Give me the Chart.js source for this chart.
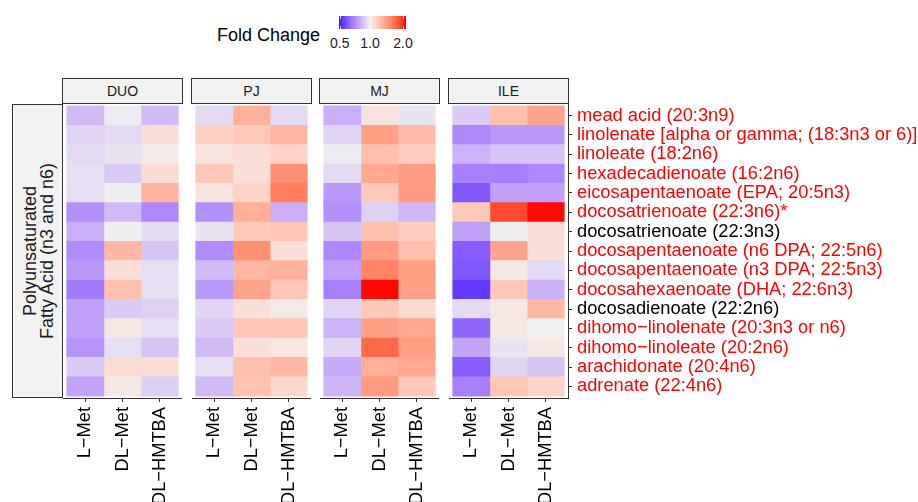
<!DOCTYPE html>
<html><head><meta charset="utf-8">
<script src="https://cdn.jsdelivr.net/npm/chart.js@4.4.1/dist/chart.umd.min.js"></script>
<style>
body{margin:0;background:#fff;}
#root{position:relative;width:918px;height:502px;overflow:hidden;font-family:'Liberation Sans',Arial,sans-serif;color:#1a1a1a;background:#fff;}
.strip{position:absolute;top:78px;height:26px;width:121px;box-sizing:border-box;border:1px solid #333;background:#f2f2f2;display:flex;align-items:center;justify-content:center;font-size:14px;color:#1a1a1a;}
canvas{position:absolute;}
</style></head><body><div id="root">
<div style="position:absolute;left:217px;top:26px;font-size:18px;line-height:18px;color:#000;">Fold Change</div>
<canvas id="cbar" width="67" height="13" style="left:339px;top:16px;"></canvas>
<div id="cbarLabels"></div>
<div style="position:absolute;left:12px;top:104px;width:51px;height:294px;box-sizing:border-box;border:1px solid #333;background:#f2f2f2;">
  <div style="position:absolute;left:50%;top:50%;width:294px;transform:translate(-50%,-50%) rotate(-90deg);text-align:center;font-size:18px;line-height:16.5px;color:#1a1a1a;">Polyunsaturated<br>Fatty Acid (n3 and n6)</div>
</div>
<div id="panels"></div>
</div>
<script>
// ---------------- data ----------------
const tissues = ['DUO', 'PJ', 'MJ', 'ILE'];
const treatments = ['L\u2212Met', 'DL\u2212Met', 'DL\u2212HMTBA'];
const metabolites = [
  'mead acid (20:3n9)',
  'linolenate [alpha or gamma; (18:3n3 or 6)]',
  'linoleate (18:2n6)',
  'hexadecadienoate (16:2n6)',
  'eicosapentaenoate (EPA; 20:5n3)',
  'docosatrienoate (22:3n6)*',
  'docosatrienoate (22:3n3)',
  'docosapentaenoate (n6 DPA; 22:5n6)',
  'docosapentaenoate (n3 DPA; 22:5n3)',
  'docosahexaenoate (DHA; 22:6n3)',
  'docosadienoate (22:2n6)',
  'dihomo\u2212linolenate (20:3n3 or n6)',
  'dihomo\u2212linoleate (20:2n6)',
  'arachidonate (20:4n6)',
  'adrenate (22:4n6)'
];
const significant = [true, true, true, true, true, true, false, true, true, true, false, true, true, true, true];

// fold change values, one array per tissue x treatment (rows follow metabolites)
const DUO_LMet   = [0.83, 0.91, 0.93, 0.94, 0.94, 0.72, 0.80, 0.71, 0.74, 0.67, 0.76, 0.76, 0.73, 0.88, 0.77];
const DUO_DLMet  = [0.98, 0.93, 0.96, 0.88, 0.99, 0.83, 0.99, 1.27, 1.08, 1.23, 0.88, 1.04, 0.94, 1.09, 1.04];
const DUO_HMTBA  = [0.83, 1.08, 1.03, 1.09, 1.29, 0.70, 0.93, 0.86, 0.94, 0.94, 0.90, 0.94, 0.86, 1.09, 0.89];
const PJ_LMet    = [0.93, 1.14, 1.06, 1.19, 1.06, 0.72, 0.96, 0.71, 0.83, 0.74, 0.91, 0.88, 0.83, 0.94, 0.83];
const PJ_DLMet   = [1.31, 1.18, 1.08, 1.08, 1.13, 1.32, 1.18, 1.48, 1.27, 1.37, 1.08, 1.19, 1.08, 1.22, 1.21];
const PJ_HMTBA   = [0.93, 1.27, 1.13, 1.48, 1.59, 0.80, 1.20, 1.08, 1.30, 1.20, 1.03, 1.19, 1.05, 1.27, 1.11];
const MJ_LMet    = [0.80, 0.91, 0.98, 0.93, 0.74, 0.72, 0.86, 0.70, 0.76, 0.68, 0.91, 0.81, 0.91, 0.79, 0.81];
const MJ_DLMet   = [1.06, 1.40, 1.23, 1.35, 1.18, 0.90, 1.22, 1.42, 1.55, 2.08, 1.19, 1.39, 1.70, 1.32, 1.42];
const MJ_HMTBA   = [0.96, 1.25, 1.16, 1.42, 1.42, 0.82, 1.16, 1.23, 1.40, 1.39, 1.10, 1.35, 1.40, 1.35, 1.19];
const ILE_LMet   = [0.88, 0.70, 0.81, 0.68, 0.59, 1.18, 0.76, 0.60, 0.59, 0.54, 0.93, 0.62, 0.77, 0.60, 0.68];
const ILE_DLMet  = [1.23, 0.74, 0.86, 0.68, 0.76, 1.87, 0.99, 1.37, 1.04, 1.19, 1.04, 1.04, 0.96, 0.91, 1.20];
const ILE_HMTBA  = [1.37, 0.74, 0.86, 0.70, 0.76, 2.08, 1.08, 1.08, 0.93, 0.80, 1.27, 1.00, 1.04, 0.86, 1.13];
const legendBreaks = [0.5, 1.0, 2.0];

const panelValues = {
  DUO: [DUO_LMet, DUO_DLMet, DUO_HMTBA],
  PJ:  [PJ_LMet, PJ_DLMet, PJ_HMTBA],
  MJ:  [MJ_LMet, MJ_DLMet, MJ_HMTBA],
  ILE: [ILE_LMet, ILE_DLMet, ILE_HMTBA]
};

// ---------------- colour scale (blue - grey - red, Lab interpolation, log2) ----------------
const FC_EXTENT = Math.log2(2.09);
function toLab(rgb) {
  const [r, g, b] = rgb.map(c => { c /= 255; return c <= 0.04045 ? c / 12.92 : Math.pow((c + 0.055) / 1.055, 2.4); });
  const X = (0.4124 * r + 0.3576 * g + 0.1805 * b) / 0.95047;
  const Y = (0.2126 * r + 0.7152 * g + 0.0722 * b);
  const Z = (0.0193 * r + 0.1192 * g + 0.9505 * b) / 1.08883;
  const f = t => t > 0.008856 ? Math.cbrt(t) : 7.787 * t + 16 / 116;
  return [116 * f(Y) - 16, 500 * (f(X) - f(Y)), 200 * (f(Y) - f(Z))];
}
function fromLab([L, a, bb]) {
  const fy = (L + 16) / 116, fx = fy + a / 500, fz = fy - bb / 200;
  const fi = t => { const t3 = t * t * t; return t3 > 0.008856 ? t3 : (t - 16 / 116) / 7.787; };
  const X = fi(fx) * 0.95047, Y = fi(fy), Z = fi(fz) * 1.08883;
  const lin = [3.2406 * X - 1.5372 * Y - 0.4986 * Z, -0.9689 * X + 1.8758 * Y + 0.0415 * Z, 0.0557 * X - 0.2040 * Y + 1.0570 * Z];
  return lin.map(c => { c = Math.min(1, Math.max(0, c)); c = c <= 0.0031308 ? 12.92 * c : 1.055 * Math.pow(c, 1 / 2.4) - 0.055; return Math.round(c * 255); });
}
const LAB_LOW = toLab([0, 0, 255]), LAB_MID = toLab([240, 240, 240]), LAB_HIGH = toLab([255, 0, 0]);
function colourForT(t) {
  t = Math.max(-1, Math.min(1, t));
  const end = t < 0 ? LAB_LOW : LAB_HIGH, f = Math.abs(t);
  const lab = LAB_MID.map((m, i) => m + f * (end[i] - m));
  const c = fromLab(lab);
  return `rgb(${c[0]},${c[1]},${c[2]})`;
}
function colourFor(v) { return colourForT(Math.log2(v) / FC_EXTENT); }

// ---------------- legend colour bar ----------------
(function drawLegend() {
  const cv = document.getElementById('cbar');
  const ctx = cv.getContext('2d');
  const mid = 31; // pixel of fold change 1.0 inside the bar
  for (let x = 0; x < cv.width; x++) {
    const l2 = x < mid ? (x + 0.5 - mid) / 30.3 : (x + 0.5 - mid) / 33;
    ctx.fillStyle = colourForT(l2 / FC_EXTENT);
    ctx.fillRect(x, 0, 1, cv.height);
  }
  const holder = document.getElementById('cbarLabels');
  legendBreaks.forEach(b => {
    const l2 = Math.log2(b);
    const px = mid + (l2 < 0 ? l2 * 30.3 : l2 * 33);
    ctx.fillStyle = 'rgba(255,255,255,0.8)';
    ctx.fillRect(Math.round(px), 0, 1, 3);
    ctx.fillRect(Math.round(px), cv.height - 3, 1, 3);
    const d = document.createElement('div');
    d.textContent = b.toFixed(1);
    d.style.cssText = `position:absolute;top:36px;left:${339 + px - 20}px;width:40px;text-align:center;font-size:14px;line-height:14px;color:#1a1a1a;`;
    holder.appendChild(d);
  });
})();

// ---------------- panels ----------------
Chart.defaults.font.family = "'Liberation Sans', Arial, sans-serif";
Chart.defaults.animation = false;

const panelLeft = [63, 192, 320, 449];
const PANEL_W = 119, PANEL_H = 294, AXIS_H = 104, TOP = 104;
const root = document.getElementById('root');

tissues.forEach((tissue, p) => {
  const strip = document.createElement('div');
  strip.className = 'strip';
  strip.style.left = (panelLeft[p] - 1) + 'px';
  strip.textContent = tissue;
  root.appendChild(strip);

  const isLast = p === tissues.length - 1;
  const cv = document.createElement('canvas');
  const w = isLast ? 918 - panelLeft[p] : PANEL_W;
  cv.width = w; cv.height = PANEL_H + AXIS_H;
  cv.style.left = panelLeft[p] + 'px';
  cv.style.top = TOP + 'px';
  cv.style.width = w + 'px'; cv.style.height = (PANEL_H + AXIS_H) + 'px';
  root.appendChild(cv);

  const datasets = treatments.map((tr, j) => ({
    label: tr,
    data: metabolites.map((m, i) => ({ x: [j + 0.5, j + 1.5], y: i + 1 })),
    backgroundColor: panelValues[tissue][j].map(colourFor),
    borderWidth: 0,
    borderSkipped: false,
    grouped: false,
    barPercentage: 1,
    categoryPercentage: 1
  }));

  new Chart(cv, {
    type: 'bar',
    data: { datasets },
    options: {
      responsive: false,
      devicePixelRatio: 1,
      indexAxis: 'y',
      layout: { padding: 0 },
      plugins: { legend: { display: false }, tooltip: { enabled: false } },
      scales: {
        x: {
          type: 'linear', min: 0.4, max: 3.6, offset: false,
          afterBuildTicks: s => { s.ticks = treatments.map((t, j) => ({ value: j + 1 })); },
          afterFit: s => { s.height = AXIS_H; s.paddingLeft = 0; s.paddingRight = 0; },
          ticks: {
            autoSkip: false, minRotation: 90, maxRotation: 90, padding: 5,
            color: '#000', font: { size: 18.3 },
            callback: v => treatments[v - 1]
          },
          grid: { display: true, offset: false, drawOnChartArea: false, drawTicks: true, tickLength: 4, tickColor: '#333', tickWidth: 1 },
          border: { display: true, color: '#333', width: 1 }
        },
        y: {
          type: 'linear', min: 0.4, max: metabolites.length + 0.6, reverse: true, offset: false,
          position: 'right',
          display: isLast,
          afterBuildTicks: s => { s.ticks = metabolites.map((m, i) => ({ value: i + 1 })); },
          afterFit: s => { if (isLast) s.width = w - PANEL_W; s.paddingTop = 0; s.paddingBottom = 0; },
          ticks: {
            autoSkip: false, padding: 5, font: { size: 18.3 },
            color: c => significant[c.tick.value - 1] ? '#ff0000' : '#000',
            callback: v => metabolites[v - 1]
          },
          grid: { display: true, offset: false, drawOnChartArea: false, drawTicks: true, tickLength: 4, tickColor: '#333', tickWidth: 1 },
          border: { display: true, color: '#333', width: 1 }
        }
      }
    }
  });
});
</script>
</body></html>
